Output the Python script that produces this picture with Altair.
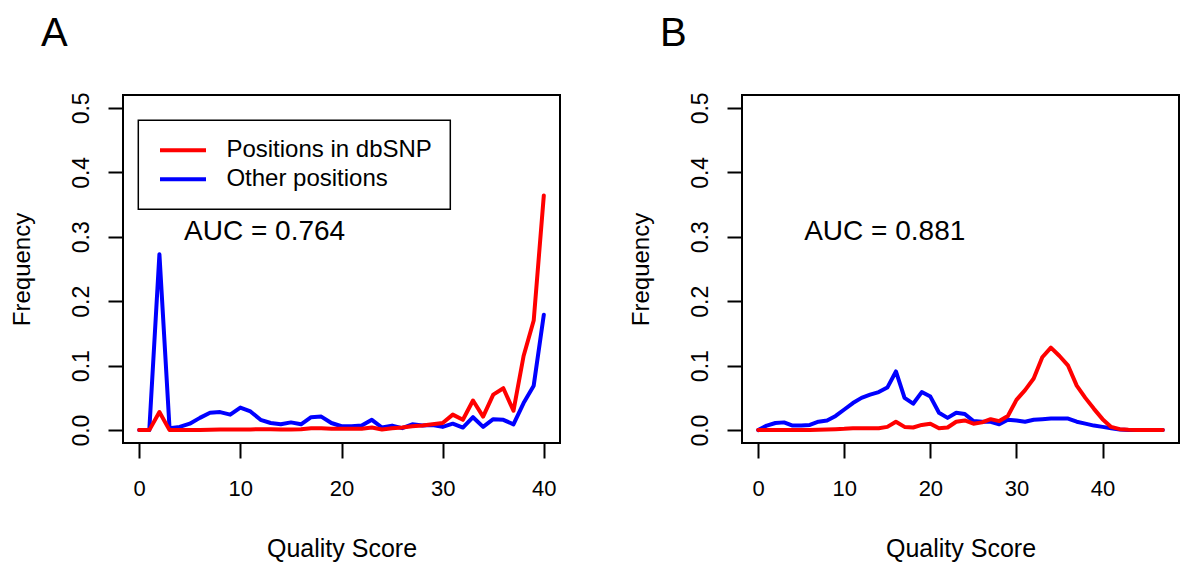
import altair as alt
import pandas as pd

FONT = "Liberation Sans"

# ---------------- data ----------------
SERIES = ["Positions in dbSNP", "Other positions"]
COLORS = ["#FF0000", "#0000FF"]
X_TICKS = [0, 10, 20, 30, 40]
Y_TICKS = [0.0, 0.1, 0.2, 0.3, 0.4, 0.5]

quality_a = list(range(41))
dbsnp_a = [0.000, 0.000, 0.028, 0.000, 0.000, 0.000, 0.000, 0.0005, 0.001, 0.001,
           0.001, 0.001, 0.0015, 0.0015, 0.001, 0.001, 0.0015, 0.003, 0.003, 0.002,
           0.002, 0.002, 0.002, 0.004, 0.001, 0.003, 0.004, 0.006, 0.007, 0.009,
           0.011, 0.024, 0.016, 0.046, 0.021, 0.055, 0.065, 0.030, 0.115, 0.170,
           0.364]
other_a = [0.000, 0.000, 0.273, 0.003, 0.005, 0.010, 0.019, 0.027, 0.028, 0.024,
           0.035, 0.029, 0.016, 0.011, 0.009, 0.012, 0.009, 0.020, 0.021, 0.011,
           0.006, 0.006, 0.007, 0.016, 0.004, 0.007, 0.003, 0.009, 0.007, 0.008,
           0.005, 0.010, 0.004, 0.020, 0.005, 0.017, 0.016, 0.009, 0.042, 0.069,
           0.179]

quality_b = list(range(48))
dbsnp_b = [0.000, 0.000, 0.000, 0.000, 0.000, 0.000, 0.000, 0.0005, 0.001, 0.0015,
           0.002, 0.003, 0.003, 0.003, 0.003, 0.005, 0.013, 0.005, 0.004, 0.008,
           0.010, 0.003, 0.004, 0.013, 0.015, 0.010, 0.012, 0.017, 0.014, 0.022,
           0.047, 0.062, 0.080, 0.113, 0.128, 0.115, 0.100, 0.069, 0.050, 0.033,
           0.017, 0.005, 0.0015, 0.0005, 0.000, 0.000, 0.000, 0.000]
other_b = [0.000, 0.007, 0.011, 0.012, 0.007, 0.007, 0.008, 0.013, 0.015, 0.022,
           0.032, 0.042, 0.050, 0.055, 0.059, 0.066, 0.091, 0.050, 0.041, 0.059,
           0.052, 0.027, 0.019, 0.027, 0.025, 0.014, 0.013, 0.013, 0.009, 0.016,
           0.015, 0.013, 0.016, 0.017, 0.018, 0.018, 0.018, 0.013, 0.010, 0.007,
           0.005, 0.003, 0.001, 0.000, 0.000, 0.000, 0.000, 0.000]

auc_a = {"label": "AUC = 0.764", "quality": 12.4, "frequency": 0.307}
auc_b = {"label": "AUC = 0.881", "quality": 14.7, "frequency": 0.307}

X_DOMAIN_A = [-1.6, 41.6]
X_DOMAIN_B = [-1.88, 48.88]
Y_DOMAIN = [-0.02, 0.52]

# ---------------- styling ----------------
X_AXIS = dict(grid=False, domain=False, ticks=True, tickSize=15, tickWidth=2,
              tickColor="black", labelFont=FONT, labelFontSize=22, labelColor="black",
              labelPadding=20, labelFlush=False, labelOverlap=False,
              titleFont=FONT, titleFontSize=25, titleFontWeight="normal",
              titleColor="black", titlePadding=37)
Y_AXIS = dict(grid=False, domain=False, ticks=True, tickSize=15, tickWidth=2,
              tickColor="black", labelFont=FONT, labelFontSize=23, labelColor="black",
              labelAngle=270, labelAlign="center", labelBaseline="bottom",
              labelPadding=15, labelFlush=False, labelOverlap=False,
              titleFont=FONT, titleFontSize=24, titleFontWeight="normal",
              titleColor="black", titlePadding=36)


def panel(q, red, blue, letter, auc, x_domain, show_legend):
    df = pd.DataFrame({
        "quality": q + q,
        "frequency": red + blue,
        "series": [SERIES[0]] * len(q) + [SERIES[1]] * len(q),
    })
    x = alt.X("quality:Q", scale=alt.Scale(domain=x_domain, nice=False, zero=False),
              axis=alt.Axis(values=X_TICKS, title="Quality Score", **X_AXIS))
    y = alt.Y("frequency:Q", scale=alt.Scale(domain=Y_DOMAIN, nice=False, zero=False),
              axis=alt.Axis(values=Y_TICKS, format=".1f", title="Frequency", **Y_AXIS))
    if show_legend:
        legend = alt.Legend(title=None, orient="none", legendX=15.3, legendY=25.3,
                            direction="vertical", symbolType="M-2.875,0H2.875",
                            symbolSize=256, symbolStrokeWidth=4, symbolOffset=14.7,
                            labelFont=FONT, labelFontSize=24, labelColor="black",
                            labelOffset=31.4, labelLimit=500, rowPadding=5, padding=18,
                            strokeColor="black")
        color = alt.Color("series:N", scale=alt.Scale(domain=SERIES, range=COLORS),
                          legend=legend)
    else:
        color = alt.Color("series:N", scale=alt.Scale(domain=SERIES, range=COLORS),
                          legend=None)
    base = alt.Chart(df)
    line_style = dict(strokeWidth=4, strokeJoin="round", strokeCap="round")
    other = base.transform_filter(alt.datum.series == SERIES[1]).mark_line(
        **line_style).encode(x=x, y=y, color=color)
    dbsnp = base.transform_filter(alt.datum.series == SERIES[0]).mark_line(
        **line_style).encode(x=x, y=y, color=color)
    ann = alt.Chart(pd.DataFrame([auc])).mark_text(
        font=FONT, fontSize=28, color="black", align="center", baseline="middle"
    ).encode(x=x, y=y, text="label:N")
    return alt.layer(other, dbsnp, ann).properties(
        width=437, height=348,
        title=alt.TitleParams(text=letter, anchor="start", frame="group", dx=-82,
                              offset=6, fontSize=40, font=FONT, fontWeight="normal",
                              baseline="alphabetic", color="black"),
    )


panel_a = panel(quality_a, dbsnp_a, other_a, "A", auc_a, X_DOMAIN_A, True)
panel_b = panel(quality_b, dbsnp_b, other_b, "B", auc_b, X_DOMAIN_B, False)

chart = (
    alt.hconcat(panel_a, panel_b, spacing=66)
    .resolve_scale(color="independent", x="independent", y="independent")
    .resolve_legend(color="independent")
    .properties(padding={"left": 0, "top": 4, "right": 0, "bottom": 0},
                background="white")
    .configure_view(stroke="black", strokeWidth=2)
    .configure_legend(strokeWidth=1.5)
)

chart.save("out.html", embed_options={"renderer": "svg", "actions": False})
